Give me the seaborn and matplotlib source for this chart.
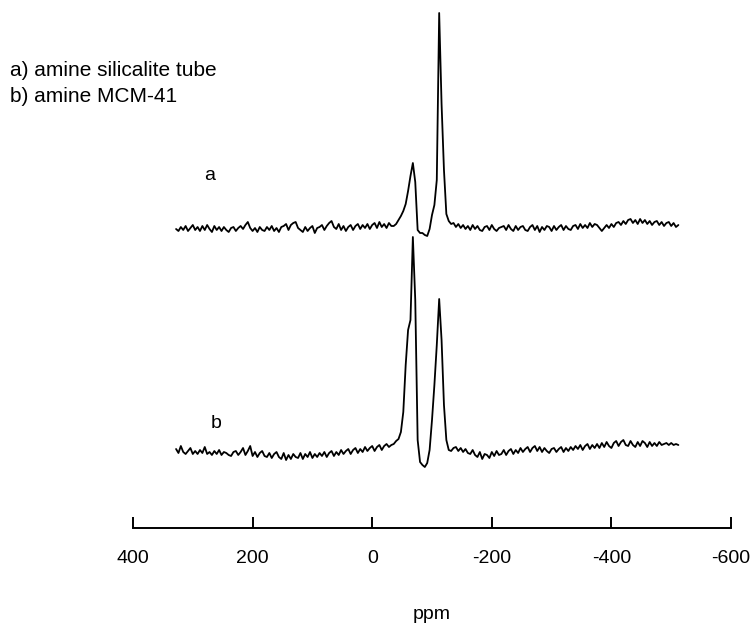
import numpy as np
import pandas as pd
import matplotlib
matplotlib.use("Agg")
import matplotlib.pyplot as plt
import seaborn as sns

# ---- data (chemical shift grid, ppm; intensities in arbitrary units) ----
ppm_start, ppm_stop = 328, -512

# trace a: amine silicalite tube
a_left = [0, -2, 2, -1, 3, -2, 1, 4, -1, 2,
          -2, 3, -1, 4, 0, -3, 3, -1, 2, -2,
          2, -1, -3, 1, 2, -2, 1, 3, 0, 4,
          7, 1, -2, 1, -3, 2, -1, -2, 2, -1,
          3, -2, 1, -3, 2, 3, 5, -1, 4, 6,
          7, 1, -1, -3, 2, -2, 1, 3, -4, 1,
          2, 4, -1, 3, 6, 8, 2, 0, 5, -1,
          3, -2, 2, 4, -1, 3, 5, 0, 4, 1,
          5, 0, 4, 6, 1, 7, 2, 5, 1, 6,
          3]
a_peaks = [3, 5, 9, 13, 18, 25, 38, 53, 66, 47,
           -1, -4, -4, -6, -7, 0, 14, 24, 49, 216,
           125, 59, 15, 8, 5]
a_right = [6, 2, 5, 1, 4, 0, 3, -1, 4, 0,
           3, -1, -2, 2, 3, -1, 4, 0, -2, 1,
           2, 3, -1, 4, 0, -2, 3, -1, 2, 3,
           -1, -2, 2, 4, -1, 3, -3, 2, -1, 3,
           2, -2, 3, -1, 2, 4, -1, 3, 0, -1,
           3, 4, 0, 5, 1, 4, 1, 6, 2, 5,
           4, 1, -2, 1, 4, 1, 5, 2, 6, 7,
           4, 8, 5, 9, 10, 6, 9, 5, 10, 6,
           9, 5, 8, 4, 7, 8, 4, 7, 3, 6,
           7, 3, 6, 2, 4]

# trace b: amine MCM-41
b_left = [1, -3, 4, -2, -4, -1, 2, -4, -1, -4,
          0, -3, 3, -4, -2, -5, -1, -4, 0, -5,
          -2, -3, -5, -6, -2, -1, -5, -2, 2, -5,
          -1, 4, -6, -2, -7, -3, -1, -6, -7, -3,
          -8, -4, -2, -7, -9, -3, -10, -5, -9, -4,
          -7, -8, -3, -9, -4, -7, -2, -8, -4, -7,
          -3, -6, -2, -7, -3, -1, -6, -2, -5, 0,
          -4, -1, 1, -4, 0, 2, -3, 1, -2, 3,
          -1, 2, 4, -1, 3, 5, 0, 4, 6, 3,
          5]
b_peaks = [6, 9, 11, 18, 38, 85, 120, 130, 213, 150,
           10, -12, -15, -17, -13, 0, 30, 65, 105, 151,
           110, 45, 10, 0, -1]
b_right = [2, 3, -1, 2, -2, 1, -3, -4, 0, -5,
           -7, -2, -9, -4, -5, -8, -2, -6, -1, -5,
           -4, 0, -5, -1, 1, -4, 0, -3, 2, -2,
           1, 3, -2, 2, 4, -1, 3, -2, 2, -1,
           -3, 1, 2, -2, 1, 3, -2, 2, -1, 3,
           0, 4, 1, 5, 0, 4, 6, 1, 5, 2,
           6, 2, 7, 3, 8, 4, 2, 7, 9, 4,
           8, 10, 5, 4, 9, 5, 3, 8, 4, 9,
           7, 3, 8, 4, 7, 4, 8, 5, 6, 7,
           5, 7, 5, 6, 5]

offset_a = 223
offset_b = 2

tick_values = [400, 200, 0, -200, -400, -600]
tick_labels = ["400", "200", "0", "-200", "-400", "-600"]
legend_lines = ["a) amine silicalite tube", "b) amine MCM-41"]
trace_labels = ["a", "b"]

# ---- build table ----
int_a = np.array(a_left + a_peaks + a_right, dtype=float)
int_b = np.array(b_left + b_peaks + b_right, dtype=float)
ppm = np.linspace(ppm_start, ppm_stop, len(int_a))
df = pd.concat([
    pd.DataFrame({"ppm": ppm, "y": int_a + offset_a, "trace": "a"}),
    pd.DataFrame({"ppm": ppm, "y": int_b + offset_b, "trace": "b"}),
])

# ---- figure ----
sns.set_theme(style="white")
plt.rcParams["font.family"] = ["Liberation Sans", "DejaVu Sans"]

W, H = 752, 624
fig = plt.figure(figsize=(W / 100, H / 100), dpi=100)
ax = fig.add_axes([133 / W, (H - 528) / H, (731 - 133) / W, 528 / H])

for name in ["a", "b"]:
    sns.lineplot(data=df[df["trace"] == name], x="ppm", y="y", ax=ax,
                 color="black", linewidth=1.3,
                 estimator=None, sort=False, legend=False)

ax.set_xlim(400, -600)
ax.set_ylim(-76, 452)
ax.set_yticks([])
ax.set_ylabel("")
for s in ["left", "right", "top"]:
    ax.spines[s].set_visible(False)
ax.spines["bottom"].set_linewidth(1.4)
ax.spines["bottom"].set_color("black")
ax.set_xticks(tick_values)
ax.set_xticklabels(tick_labels)
ax.tick_params(axis="x", direction="in", length=8, width=1.4, color="black",
               pad=16, labelsize=14, labelcolor="black", bottom=True)
ax.set_xlabel("ppm", fontsize=14, color="black", labelpad=28)
ax.patch.set_alpha(0)

fig.text(10 / W, 1 - 71 / H, legend_lines[0], fontsize=15, va="center", ha="left", color="black")
fig.text(10 / W, 1 - 97 / H, legend_lines[1], fontsize=15, va="center", ha="left", color="black")
fig.text(210 / W, 1 - 175 / H, trace_labels[0], fontsize=14, va="center", ha="center", color="black")
fig.text(216 / W, 1 - 424 / H, trace_labels[1], fontsize=14, va="center", ha="center", color="black")

fig.savefig("out.png", dpi=100)
